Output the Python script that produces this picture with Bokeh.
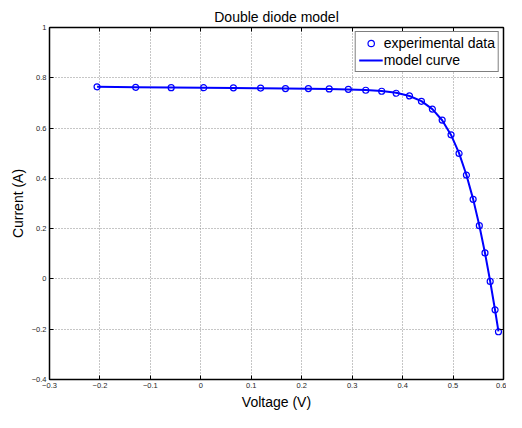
from bokeh.plotting import figure
from bokeh.models import (LinearAxis, FixedTicker, CustomJSTickFormatter, Range1d,
                          Legend, LegendItem, AllLabels)
from bokeh.embed import file_html
from bokeh.resources import INLINE

voltage = [-0.2057, -0.1291, -0.0588, 0.0057, 0.0646, 0.1185, 0.1678, 0.2132,
           0.2545, 0.2924, 0.3269, 0.3585, 0.3873, 0.4137, 0.4373, 0.4590,
           0.4784, 0.4960, 0.5119, 0.5265, 0.5398, 0.5521, 0.5633, 0.5736,
           0.5833, 0.5900]
current_exp = [0.7640, 0.7620, 0.7605, 0.7605, 0.7600, 0.7590, 0.7570, 0.7570,
               0.7555, 0.7540, 0.7505, 0.7465, 0.7385, 0.7280, 0.7065, 0.6755,
               0.6320, 0.5730, 0.4990, 0.4130, 0.3165, 0.2120, 0.1035, -0.0100,
               -0.1230, -0.2100]
current_model = [0.7640, 0.7626, 0.7613, 0.7601, 0.7590, 0.7580, 0.7571, 0.7561,
                 0.7551, 0.7537, 0.7514, 0.7474, 0.7401, 0.7274, 0.7070, 0.6754,
                 0.6311, 0.5727, 0.5003, 0.4134, 0.3174, 0.2128, 0.1030, -0.0093,
                 -0.1247, -0.2088]

x_ticks = [-0.3, -0.2, -0.1, 0.0, 0.1, 0.2, 0.3, 0.4, 0.5, 0.6]
y_ticks = [-0.4, -0.2, 0.0, 0.2, 0.4, 0.6, 0.8, 1.0]

FONT = "Liberation Sans"

p = figure(width=506, height=412, output_backend="svg", toolbar_location=None,
           x_range=Range1d(-0.3, 0.6), y_range=Range1d(-0.4, 1.0),
           x_axis_location=None, y_axis_location=None,
           min_border_left=49, min_border_right=3, min_border_top=27,
           min_border_bottom=33)
p.background_fill_color = "white"
p.border_fill_color = "white"
p.outline_line_color = "black"

p.title.text = "Double diode model"
p.title.align = "center"
p.title.text_font = FONT
p.title.text_font_size = "14px"
p.title.text_font_style = "normal"
p.title.text_color = "black"
p.title.standoff = 6
p.title.offset = 0

fmt = CustomJSTickFormatter(code="""
    let v = Math.round(tick * 10) / 10;
    if (Math.abs(v) < 1e-9) return "0";
    return v.toString().replace("-", "\u2212");
""")
blank = CustomJSTickFormatter(code="return '';")


def style_axis(ax, ticks, labels=True):
    ax.ticker = FixedTicker(ticks=ticks)
    ax.axis_line_color = "black"
    ax.axis_line_width = 1.5
    ax.major_tick_line_color = "black"
    ax.major_tick_in = 4
    ax.major_tick_out = 0
    ax.minor_tick_line_color = None
    ax.major_label_policy = AllLabels()
    ax.major_label_text_font = FONT
    ax.major_label_text_font_size = "7.5px"
    ax.major_label_text_color = "#262626"
    ax.axis_label_text_font = FONT
    ax.axis_label_text_font_size = "14px"
    ax.axis_label_text_font_style = "normal"
    ax.axis_label_text_color = "black"
    if labels:
        ax.formatter = fmt
        ax.major_label_standoff = 3
        ax.axis_label_standoff = 3
    else:
        ax.formatter = blank
        ax.major_label_standoff = 0
        ax.major_label_text_font_size = "0px"


xb = LinearAxis(axis_label="Voltage (V)")
style_axis(xb, x_ticks)
yl = LinearAxis(axis_label="Current (A)")
style_axis(yl, y_ticks)
xt = LinearAxis()
style_axis(xt, x_ticks, labels=False)
yr = LinearAxis()
style_axis(yr, y_ticks, labels=False)
p.add_layout(xb, "below")
p.add_layout(yl, "left")
p.add_layout(xt, "above")
p.add_layout(yr, "right")

p.xgrid.ticker = FixedTicker(ticks=x_ticks)
p.ygrid.ticker = FixedTicker(ticks=y_ticks)
for g in (p.xgrid, p.ygrid):
    g.grid_line_color = "#8c8c8c"
    g.grid_line_dash = "1 2"
    g.grid_line_width = 1

r_exp = p.scatter(voltage, current_exp, marker="circle", size=6,
                  fill_color=None, line_color="#0000ff", line_width=1.2)
r_mod = p.line(voltage, current_model, line_color="#0000ff", line_width=2)

legend = Legend(items=[LegendItem(label="experimental data", renderers=[r_exp]),
                       LegendItem(label="model curve", renderers=[r_mod])],
                location="top_right")
legend.label_text_font = FONT
legend.label_text_font_size = "14px"
legend.label_text_color = "black"
legend.label_standoff = 1
legend.label_height = 16
legend.glyph_width = 24
legend.glyph_height = 16
legend.spacing = 1
legend.padding = 3
legend.margin = 4
legend.border_line_color = "black"
legend.border_line_width = 1.5
legend.background_fill_color = "white"
legend.background_fill_alpha = 1
p.add_layout(legend)

open("out.html", "w").write(file_html(p, INLINE))
